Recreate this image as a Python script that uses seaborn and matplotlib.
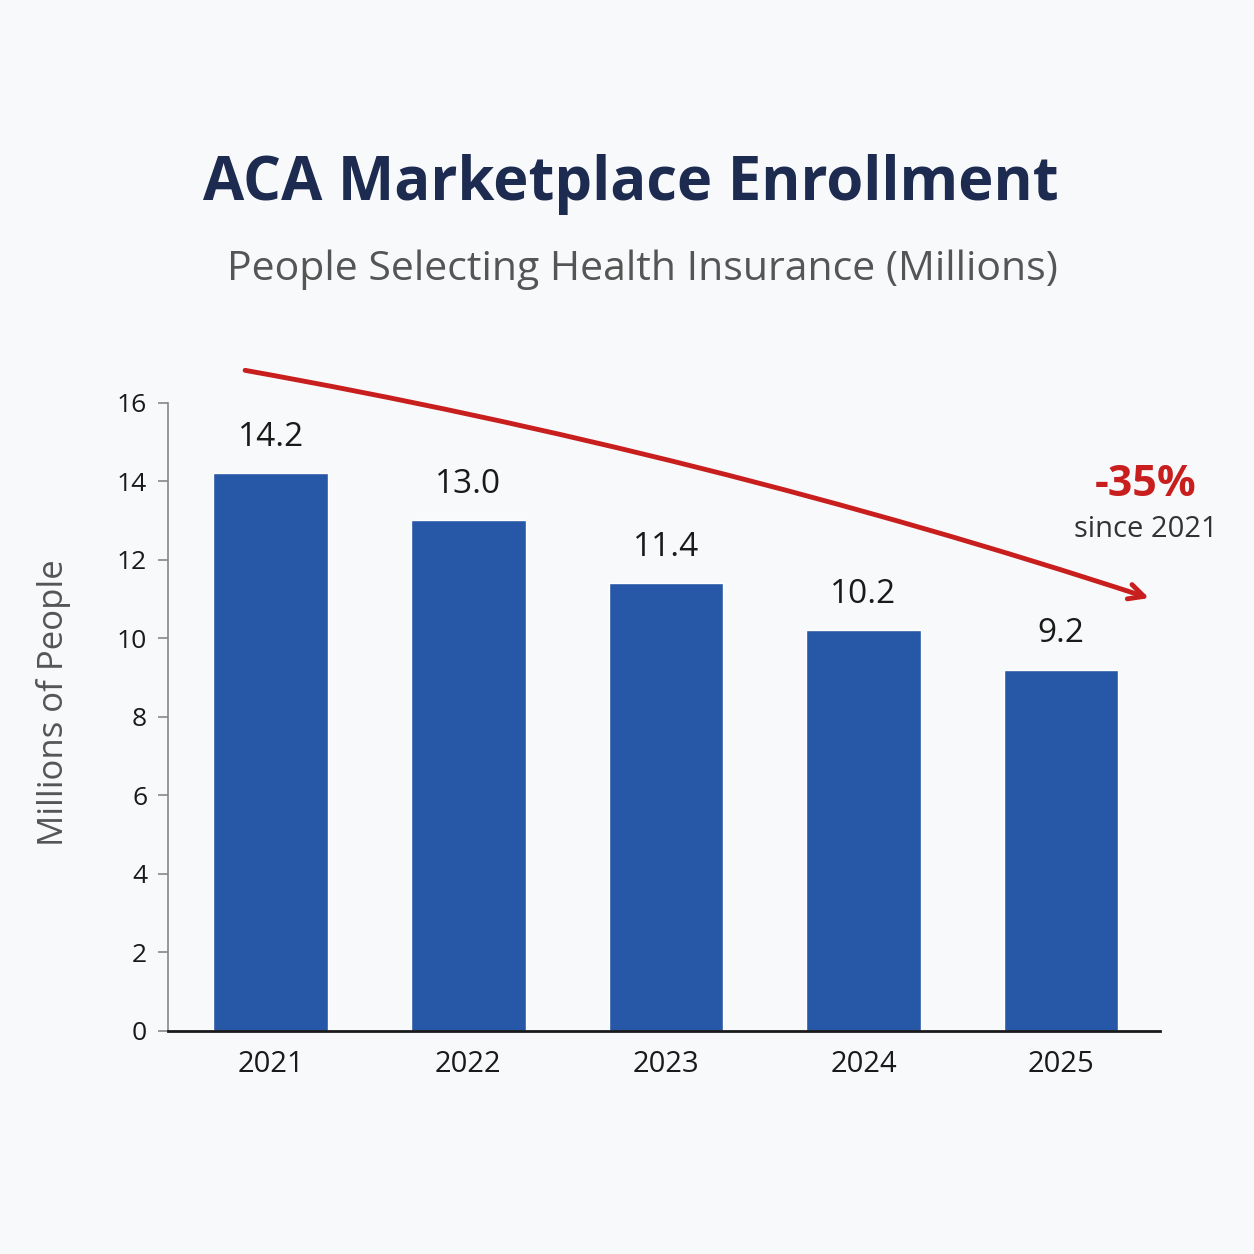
import matplotlib
matplotlib.use('Agg')
import matplotlib.pyplot as plt
import seaborn as sns
import pandas as pd

years = ['2021', '2022', '2023', '2024', '2025']
enrollment = [14.2, 13.0, 11.4, 10.2, 9.2]
y_ticks = [0, 2, 4, 6, 8, 10, 12, 14, 16]

BG = '#f8f9fa'
BAR = '#2757a7'
RED = '#c81e1e'

sns.set_theme(style='white')
plt.rcParams['font.family'] = ['Open Sans', 'DejaVu Sans']

df = pd.DataFrame({'year': years, 'enrollment': enrollment})

fig = plt.figure(figsize=(12.54, 12.54), dpi=100, facecolor=BG)
ax = fig.add_axes([0.134, 0.178, 0.791, 0.501])
ax.set_facecolor(BG)

sns.barplot(data=df, x='year', y='enrollment', color=BAR, width=0.58,
            saturation=1, ax=ax)

for i, v in enumerate(enrollment):
    ax.text(i, v + 0.5, f'{v:.1f}', ha='center', va='bottom',
            fontsize=24, color='#1a1a1a')

ax.set_ylim(0, 16)
ax.set_xlim(-0.52, 4.50)
ax.set_yticks(y_ticks)
ax.set_xlabel('')
ax.set_ylabel('Millions of People', fontsize=25, color='#555555')
ax.yaxis.set_label_coords(-0.098, 0.523)
ax.tick_params(axis='y', labelsize=19, colors='#1a1a1a', length=7, width=1.2,
               color='#888888', pad=8, left=True)
ax.tick_params(axis='x', labelsize=21, colors='#1a1a1a', length=0, pad=14)

for s in ['top', 'right']:
    ax.spines[s].set_visible(False)
ax.spines['left'].set_color('#888888')
ax.spines['left'].set_linewidth(1.2)
ax.spines['bottom'].set_color('#1a1a1a')
ax.spines['bottom'].set_linewidth(2)

# trend arrow
ax.annotate('', xy=(4.445, 11.02), xytext=(-0.13, 16.82),
            xycoords='data', annotation_clip=False,
            arrowprops=dict(arrowstyle='->,head_length=0.9,head_width=0.45',
                            color=RED, lw=3.5,
                            connectionstyle='arc3,rad=-0.035',
                            shrinkA=0, shrinkB=0))

ax.text(4.43, 13.9, '-35%', ha='center', va='center', fontsize=31,
        fontweight='bold', color=RED)
ax.text(4.43, 12.77, 'since 2021', ha='center', va='center', fontsize=21,
        color='#333333')

fig.text(0.503, 0.853, 'ACA Marketplace Enrollment', ha='center', va='center',
         fontsize=43, fontweight='bold', color='#1c2b4f')
fig.text(0.512, 0.785, 'People Selecting Health Insurance (Millions)',
         ha='center', va='center', fontsize=29.5, color='#555555')

fig.savefig('out.png', dpi=100, facecolor=BG)
plt.close(fig)
